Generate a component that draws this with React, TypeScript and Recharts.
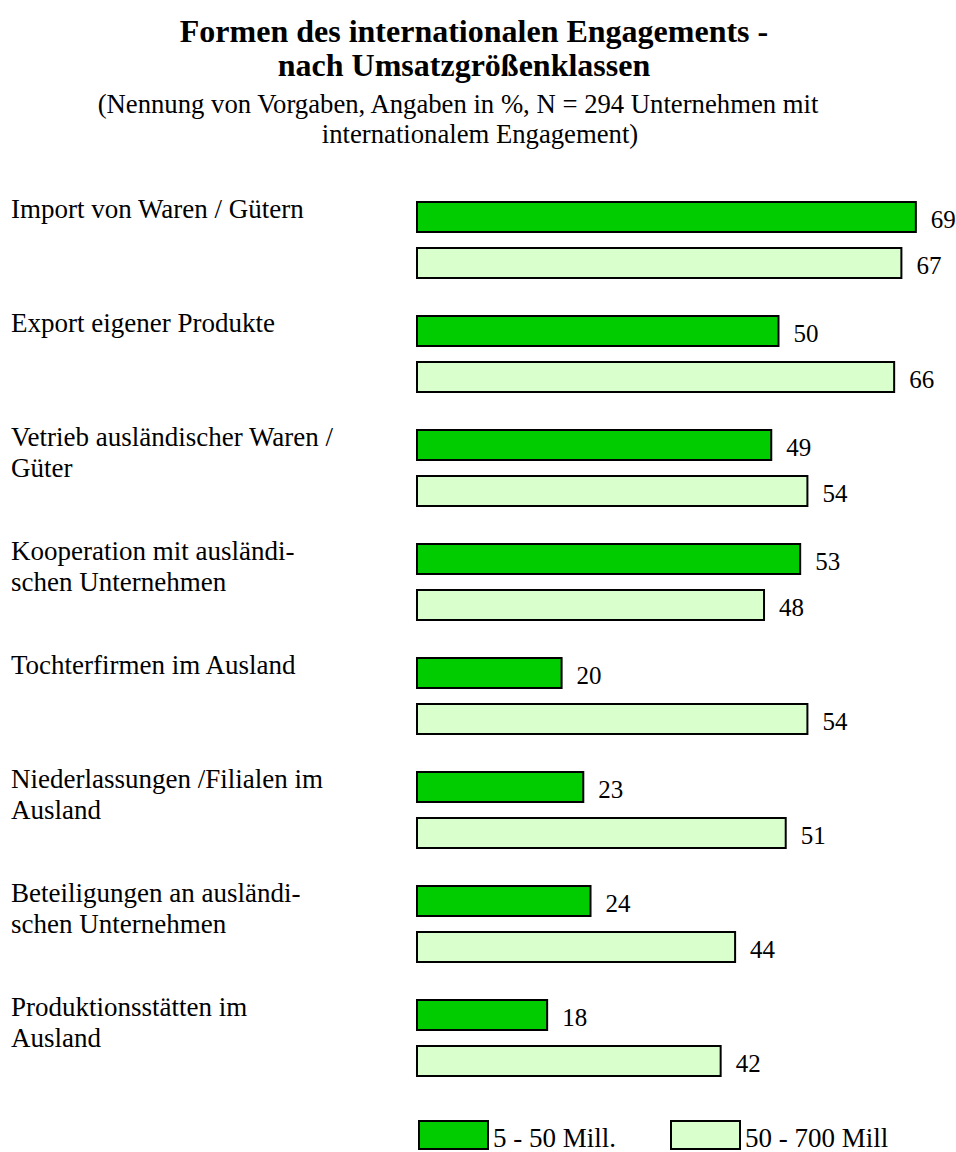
import React from 'react';
import { BarChart, Bar, XAxis, YAxis, Legend, LabelList } from 'recharts';

const categories = [
  'Import von Waren / Gütern',
  'Export eigener Produkte',
  'Vetrieb ausländischer Waren /\nGüter',
  'Kooperation mit ausländi-\nschen Unternehmen',
  'Tochterfirmen im Ausland',
  'Niederlassungen /Filialen im\nAusland',
  'Beteiligungen an ausländi-\nschen Unternehmen',
  'Produktionsstätten im\nAusland',
];
const small = [69, 50, 49, 53, 20, 23, 24, 18];
const large = [67, 66, 54, 48, 54, 51, 44, 42];
const seriesNames = ['5 - 50 Mill.', '50 - 700 Mill'];
const colors = ['#00cc00', '#d9ffcc'];

const data = categories.map((name, i) => ({ name, small: small[i], large: large[i] }));

const FONT = '"Liberation Serif", "Times New Roman", serif';

const CategoryTick = (props: any) => {
  const { y, payload } = props;
  const lines = String(payload.value).split('\n');
  return (
    <text x={11} y={y - 22} fontFamily={FONT} fontSize={27} fill="#000" textAnchor="start">
      {lines.map((l, i) => (
        <tspan key={i} x={11} dy={i === 0 ? 0 : 31}>{l}</tspan>
      ))}
    </text>
  );
};

const ValueLabel = (props: any) => {
  const { x, y, width, height, value } = props;
  return (
    <text x={x + width + 15} y={y + height / 2 + 11} fontFamily={FONT} fontSize={25} fill="#000">
      {value}
    </text>
  );
};

const LegendBox = (props: any) => {
  const items = props.payload || [];
  const pos = [419, 671];
  return (
    <div style={{ position: 'relative', height: 0 }}>
      <svg width={956} height={40} style={{ position: 'absolute', left: 0, top: 0, overflow: 'visible' }}>
        {items.map((it: any, i: number) => (
          <g key={i}>
            <rect x={pos[i]} y={3} width={69} height={28} fill={it.color} stroke="#000" strokeWidth={2} />
            <text x={pos[i] + 74} y={29} fontFamily={FONT} fontSize={27} fill="#000">{it.value}</text>
          </g>
        ))}
      </svg>
    </div>
  );
};

export default function App() {
  return (
    <div style={{ position: 'absolute', left: 0, top: 0, width: 956, height: 1152, background: '#fff' }}>
      <svg width={956} height={160} style={{ position: 'absolute', left: 0, top: 0 }}>
        <text x={474} y={42} textAnchor="middle" fontFamily={FONT} fontWeight="bold" fontSize={32} fill="#000">
          Formen des internationalen Engagements -
        </text>
        <text x={464} y={76} textAnchor="middle" fontFamily={FONT} fontWeight="bold" fontSize={32} fill="#000">
          nach Umsatzgrößenklassen
        </text>
        <text x={458} y={113} textAnchor="middle" fontFamily={FONT} fontSize={26.7} fill="#000">
          (Nennung von Vorgaben, Angaben in %, N = 294 Unternehmen mit
        </text>
        <text x={480} y={143} textAnchor="middle" fontFamily={FONT} fontSize={26.7} fill="#000">
          internationalem Engagement)
        </text>
      </svg>
      <BarChart
        width={956}
        height={1152}
        data={data}
        layout="vertical"
        margin={{ top: 183, right: 4, bottom: 57, left: 0 }}
        barSize={30}
        barGap={16}
      >
        <XAxis type="number" domain={[0, 74]} hide />
        <YAxis
          type="category"
          dataKey="name"
          width={417}
          axisLine={false}
          tickLine={false}
          interval={0}
          tick={<CategoryTick />}
        />
        <Legend
          content={<LegendBox />}
          wrapperStyle={{ left: 0, top: 1118, width: 956, height: 0 }}
        />
        <Bar dataKey="small" name={seriesNames[0]} fill={colors[0]} stroke="#000" strokeWidth={2} isAnimationActive={false}>
          <LabelList dataKey="small" content={<ValueLabel />} />
        </Bar>
        <Bar dataKey="large" name={seriesNames[1]} fill={colors[1]} stroke="#000" strokeWidth={2} isAnimationActive={false}>
          <LabelList dataKey="large" content={<ValueLabel />} />
        </Bar>
      </BarChart>
    </div>
  );
}
